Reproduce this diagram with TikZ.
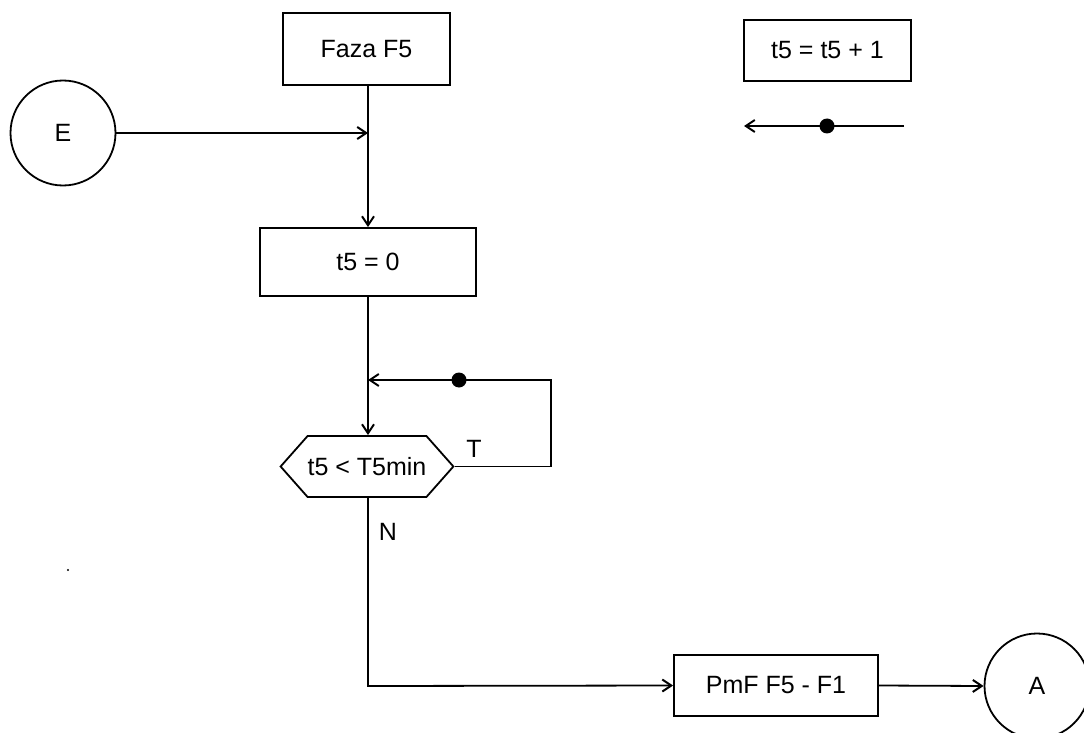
\documentclass[tikz,border=0pt]{standalone}
\usepackage{fontspec}
\setmainfont{Liberation Sans}
\usetikzlibrary{arrows.meta,shapes.geometric,shapes.symbols}
\begin{document}
\begin{tikzpicture}[x=1pt,y=-1pt,
  font=\fontsize{25}{29}\selectfont,
  line width=1.8pt,
  flow/.style={-{Straight Barb[length=9pt,width=12pt,line width=2pt]}},
  procbox/.style={draw,rectangle,inner sep=0pt},
  conn/.style={draw,circle,minimum size=105pt,inner sep=0pt},
  decision/.style={draw,signal,signal to=west and east,signal pointer angle=97,
    minimum width=166pt,minimum height=61pt,inner sep=0pt},
  junction/.style={circle,fill,minimum size=15pt,inner sep=0pt},
  lbl/.style={inner sep=0pt}]
\useasboundingbox (0,0) rectangle (1084,733);

% main flow blocks
\node[procbox,minimum width=167pt,minimum height=72pt] (faza) at (366.5,49) {Faza F5};
\node[conn] (E) at (63,133) {E};
\node[procbox,minimum width=216pt,minimum height=68pt] (init) at (368,262) {t5 = 0};
\node[decision] (cmp) at (367,466.5) {t5 < T5min};
\node[procbox,minimum width=204pt,minimum height=61pt] (pmf) at (776,685.5) {PmF F5 - F1};
\node[conn] (A) at (1037,686) {A};

% legend: increment block and the marker used on the loop
\node[procbox,minimum width=167pt,minimum height=61pt] (inc) at (827.5,50.5) {t5 = t5 + 1};
\coordinate (legR) at (904,126);
\coordinate (legL) at (744,126);
\node[junction] (legdot) at (827,126) {};
\draw[flow] (legR) -- (legL);

% connection points
\coordinate (mergeE) at (368,133);
\coordinate (loopIn) at (368,380);
\coordinate (loopTR) at (551,380);
\coordinate (loopBR) at (551,466.5);
\coordinate (bend) at (368,686);

% connectors
\draw (faza.south -| mergeE) -- (mergeE);
\draw[flow] (mergeE) -- (init.north -| mergeE);
\draw[flow] (E.east) -- (mergeE);
\draw (init.south -| loopIn) -- (loopIn);
\draw[flow] (loopIn) -- (cmp.north -| loopIn);
\draw[flow] (cmp.east) -- (loopBR) -- (loopTR) -- (loopIn);
\node[junction] (loopdot) at (459,380) {};
\draw[flow] (cmp.south -| bend) -- (bend) -- (pmf.west);
\draw[flow] (pmf.east) -- (A.west);

% branch labels
\node[lbl] (lT) at (474,449) {T};
\node[lbl] (lN) at (388,532) {N};

% small dot
\fill (68,570) circle (1.2pt);
\end{tikzpicture}
\end{document}
